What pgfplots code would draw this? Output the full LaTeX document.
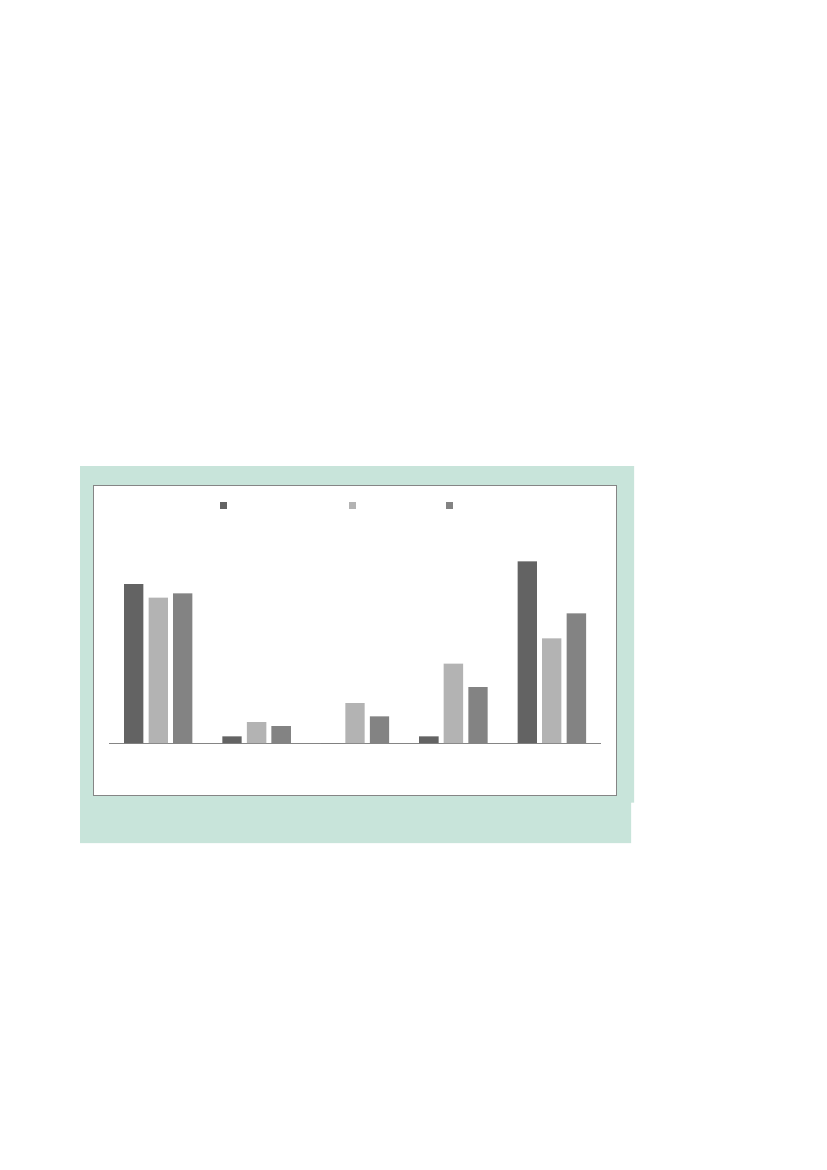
\documentclass[border=0pt]{standalone}
\usepackage{pgfplots}
\pgfplotsset{compat=1.18}
\definecolor{panel}{HTML}{C8E4DA}
\definecolor{frame}{HTML}{858585}
\definecolor{sA}{HTML}{636363}
\definecolor{sB}{HTML}{B3B3B3}
\definecolor{sC}{HTML}{838383}
\begin{document}
\begin{tikzpicture}
% page and panel, in pixels of the reference (1px = 0.75pt)
\begin{scope}[x=0.75pt,y=-0.75pt]
  \path[fill=white] (0,0) rectangle (827,1170);
  \fill[panel] (80,466) -- (634,466) -- (634,802.5) -- (631,802.5) -- (631,843) -- (80,843) -- cycle;
  \filldraw[fill=white, draw=frame, line width=0.75pt] (93.5,485.5) rectangle (616,795);
\end{scope}
\begin{axis}[
  at={(81.75pt,-557.25pt)}, anchor=south west,
  scale only axis,
  width=369pt, height=150pt,
  xmin=-0.5, xmax=4.5,
  ymin=0, ymax=200,
  ybar=3.9pt, bar width=14.5pt,
  axis x line=bottom, axis y line=none,
  axis line style={-, draw=frame, line width=0.75pt},
  xtick=\empty, ytick=\empty,
  legend columns=3,
  legend image code/.code={\path[#1, draw=none] (0pt,-2.8pt) rectangle (5.6pt,2.8pt);},
  legend style={at={(0.2256,1.1875)}, anchor=west, draw=none, fill=none,
    inner sep=0pt, outer sep=0pt, column sep=0pt,
    nodes={inner sep=0pt}},
]
\addplot[draw=none, fill=sA] coordinates {(0,159) (1,6.7) (2,0) (3,6.7) (4,181.7)};
\addlegendentry{\rule{91.1pt}{0pt}}
\addplot[draw=none, fill=sB] coordinates {(0,145.3) (1,21) (2,40) (3,79.3) (4,104.7)};
\addlegendentry{\rule{67.1pt}{0pt}}
\addplot[draw=none, fill=sC] coordinates {(0,149.7) (1,17) (2,26.7) (3,56) (4,129.7)};
\addlegendentry{}
\end{axis}
\end{tikzpicture}
\end{document}
